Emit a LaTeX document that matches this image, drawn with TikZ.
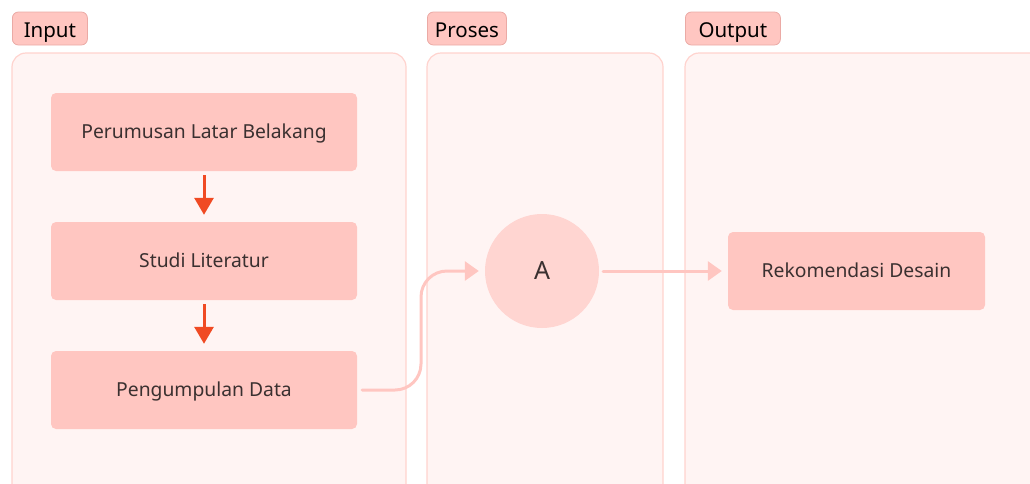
\documentclass[tikz,border=0pt]{standalone}
\usepackage{fontspec}
\setmainfont{Noto Sans}
\usetikzlibrary{arrows.meta}
\definecolor{panelfill}{HTML}{FFF4F3}
\definecolor{paneldraw}{HTML}{FFD3CE}
\definecolor{boxfill}{HTML}{FFC6C1}
\definecolor{tagdraw}{HTML}{EBAAA5}
\definecolor{circfill}{HTML}{FFD5D1}
\definecolor{redarrow}{HTML}{F04A23}
\definecolor{pinkarrow}{HTML}{FFC6C1}
\definecolor{txt}{HTML}{3A3030}
\begin{document}
\begin{tikzpicture}[x=1pt,y=-1pt,
  panel/.style={draw=paneldraw,fill=panelfill,line width=1.2pt,rounded corners=14pt},
  tag/.style={draw=tagdraw,fill=boxfill,line width=0.8pt,rounded corners=6pt,minimum height=33pt,inner xsep=2pt,text height=18pt,text depth=0pt,font=\fontsize{20.5}{24}\selectfont,text=black},
  stepbox/.style={fill=boxfill,rounded corners=5pt,minimum width=306pt,minimum height=78pt,text height=13.8pt,text depth=0pt,font=\fontsize{19.3}{22}\selectfont,text=txt},
  redflow/.style={draw=redarrow,line width=3pt,-{Triangle[length=17pt,width=19pt]}},
  pinkflow/.style={draw=pinkarrow,line width=3pt,line cap=round,-{Triangle[length=14pt,width=19pt]}}]
\useasboundingbox (0,0) rectangle (1030,483);
\begin{scope}
\clip (0,0) rectangle (1030,483);
\draw[panel] (12,53) rectangle (406,500);
\draw[panel] (427,53) rectangle (663,500);
\draw[panel] (685,53) rectangle (1045,500);
\end{scope}
\node[tag,minimum width=75pt,anchor=west] (tin) at (12,28.5) {Input};
\node[tag,minimum width=79pt,anchor=west] (tpr) at (427,28.5) {Proses};
\node[tag,minimum width=95pt,anchor=west] (tout) at (685,28.5) {Output};
\node[stepbox] (b1) at (204,132) {Perumusan Latar Belakang};
\node[stepbox] (b2) at (204,261) {Studi Literatur};
\node[stepbox] (b3) at (204,390) {Pengumpulan Data};
\node[circle,fill=circfill,minimum size=114pt,inner sep=0pt,font=\fontsize{25}{30}\selectfont,text=txt] (a) at (542,271) {A};
\node[stepbox,minimum width=257pt] (out) at (856.5,271) {Rekomendasi Desain};
\draw[redflow] ([yshift=-4pt]b1.south) -- ([yshift=7pt]b2.north);
\draw[redflow] ([yshift=-4pt]b2.south) -- ([yshift=7pt]b3.north);
\draw[pinkflow,rounded corners=26pt] ([xshift=5pt]b3.east) -| (421,271) -- ([xshift=-6pt]a.west);
\draw[pinkflow] ([xshift=4pt]a.east) -- ([xshift=-6pt]out.west);
\end{tikzpicture}
\end{document}
